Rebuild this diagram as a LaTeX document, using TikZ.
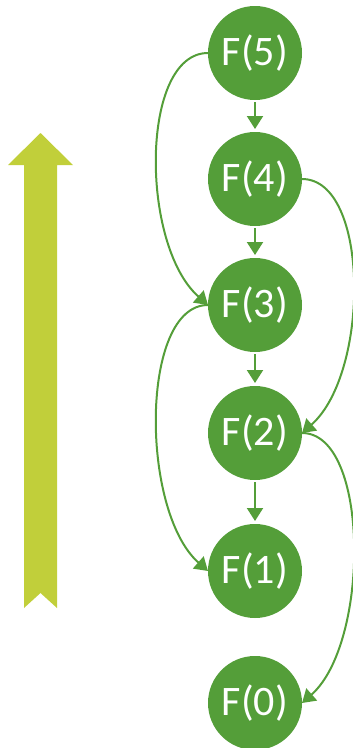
\documentclass[tikz,border=0pt]{standalone}
\usepackage{fontspec}
\setmainfont{Carlito}
\usetikzlibrary{arrows.meta}
\definecolor{fibgreen}{RGB}{84,158,57}
\definecolor{arrowlime}{RGB}{193,207,58}
\begin{document}
\begin{tikzpicture}[x=1pt,y=-1pt,
  fnode/.style={circle,fill=fibgreen,text=white,minimum size=94pt,inner sep=0pt,outer sep=0pt,
    font=\fontsize{42}{50}\selectfont},
  conn/.style={draw=fibgreen,line width=2pt,-{Triangle[length=13pt,width=16pt]}},
  straightconn/.style={conn,shorten >=3pt,shorten <=2pt}]
\useasboundingbox (0,0) rectangle (353,748);
% big up arrow
\fill[arrowlime] (24,608) -- (24,165) -- (8,165) -- (40.5,133) -- (73,165) -- (57,165) -- (57,608) -- (40.5,593) -- cycle;
% nodes
\node[fnode] (F5) at (255,53) {F(5)};
\node[fnode] (F4) at (255,179) {F(4)};
\node[fnode] (F3) at (255,305) {F(3)};
\node[fnode] (F2) at (255,433) {F(2)};
\node[fnode] (F1) at (255,571) {F(1)};
\node[fnode] (F0) at (255,703) {F(0)};
% straight connectors
\draw[straightconn] (F5) -- (F4);
\draw[straightconn] (F4) -- (F3);
\draw[straightconn] (F3) -- (F2);
\draw[straightconn] (F2) -- (F1);
% curved connectors
\draw[conn] (F5.west) .. controls +(-68,0) and +(-68,-60) .. (F3.west);
\draw[conn] (F3.west) .. controls +(-68,0) and +(-68,-60) .. (F1.west);
\draw[conn] (F4.east) .. controls +(68,0) and +(68,-60) .. (F2.east);
\draw[conn] (F2.east) .. controls +(68,0) and +(68,-60) .. (F0.east);
\end{tikzpicture}
\end{document}
